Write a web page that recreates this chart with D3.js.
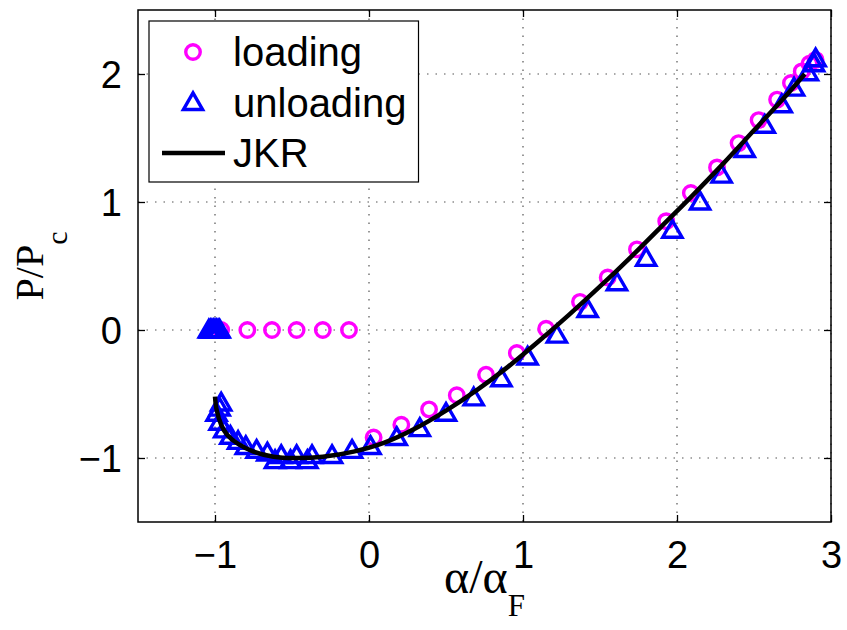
<!DOCTYPE html>
<html>
<head>
<meta charset="utf-8">
<script src="https://cdn.jsdelivr.net/npm/d3@7"></script>
<style>
  body { margin: 0; background: #fff; }
  svg { display: block; }
  .tick-label { font-family: "Liberation Sans", Arial, sans-serif; font-size: 38px; fill: #000; }
  .legend-label { font-family: "Liberation Sans", Arial, sans-serif; font-size: 40px; fill: #000; }
  .axis-title { font-family: "Liberation Serif", "Times New Roman", serif; font-size: 40px; fill: #000; }
</style>
</head>
<body>
<div id="chart"></div>
<script>
// loading (circles)
const loadX = [-0.96, -0.79, -0.63, -0.47, -0.30, -0.13,
  0.03, 0.21, 0.39, 0.57, 0.76, 0.96, 1.15, 1.37, 1.55, 1.74, 1.93, 2.09,
  2.26, 2.40, 2.53, 2.65, 2.74, 2.81, 2.86, 2.90];
const loadY = [0, 0, 0, 0, 0, 0,
  -0.84, -0.74, -0.62, -0.51, -0.35, -0.18, 0.01, 0.22, 0.41, 0.63, 0.85, 1.07,
  1.27, 1.46, 1.64, 1.80, 1.93, 2.02, 2.08, 2.11];

// unloading (triangles)
const unloadX = [2.90, 2.89, 2.85, 2.76, 2.68, 2.57, 2.44, 2.29, 2.15, 1.97,
  1.80, 1.61, 1.42, 1.22, 1.03, 0.86, 0.68, 0.50, 0.33, 0.18, 0.01, -0.11,
  -0.24, -0.37, -0.40, -0.47, -0.51, -0.57, -0.61, -0.66, -0.73, -0.80,
  -0.85, -0.90, -0.94, -0.97, -0.99, -0.97, -0.96,
  -1.04, -1.03, -1.02, -1.01, -1.00, -0.99, -0.98, -0.97];
const unloadY = [2.12, 2.08, 2.01, 1.89, 1.76, 1.60, 1.41, 1.21, 1.00, 0.78,
  0.56, 0.37, 0.16, -0.04, -0.21, -0.38, -0.53, -0.65, -0.77, -0.84, -0.91, -0.94,
  -0.98, -0.98, -1.02, -0.98, -1.02, -0.98, -1.02, -0.96, -0.94, -0.91,
  -0.87, -0.83, -0.78, -0.72, -0.65, -0.61, -0.57,
  0, 0, 0, 0, 0, 0, 0, 0];

// JKR curve
const jkrX = [-1.00, -0.99, -0.96, -0.92, -0.85, -0.75, -0.62, -0.48, -0.30, -0.10,
  0.10, 0.30, 0.50, 0.70, 0.90, 1.10, 1.30, 1.50, 1.70, 1.90, 2.10, 2.30,
  2.50, 2.70, 2.83];
const jkrY = [-0.52, -0.62, -0.74, -0.82, -0.89, -0.95, -0.99, -1.00, -0.99, -0.95,
  -0.88, -0.77, -0.63, -0.47, -0.29, -0.09, 0.12, 0.34, 0.57, 0.81, 1.05, 1.30,
  1.56, 1.82, 2.00];

const xTicks = [-1, 0, 1, 2, 3];
const yTicks = [-1, 0, 1, 2];

const width = 847, height = 630;
const margin = { top: 10, right: 16, bottom: 108, left: 138 };
const w = width - margin.left - margin.right;
const h = height - margin.top - margin.bottom;

const svg = d3.select("#chart").append("svg")
  .attr("width", width)
  .attr("height", height);

const g = svg.append("g")
  .attr("transform", `translate(${margin.left},${margin.top})`);

const x = d3.scaleLinear().domain([-1.5, 3]).range([0, w]);
const y = d3.scaleLinear().domain([-1.5, 2.5]).range([h, 0]);

// dotted grid
g.append("g").selectAll("line")
  .data(xTicks)
  .join("line")
  .attr("x1", d => x(d)).attr("x2", d => x(d))
  .attr("y1", 0).attr("y2", h)
  .attr("stroke", "#555").attr("stroke-width", 1.2)
  .attr("stroke-dasharray", "1.5,7");
g.append("g").selectAll("line")
  .data(yTicks)
  .join("line")
  .attr("x1", 0).attr("x2", w)
  .attr("y1", d => y(d)).attr("y2", d => y(d))
  .attr("stroke", "#555").attr("stroke-width", 1.2)
  .attr("stroke-dasharray", "1.5,7");

// axes with inward ticks, labels
const fmt = d => d < 0 ? "\u2212" + Math.abs(d) : String(d);
const xAxis = g.append("g").attr("transform", `translate(0,${h})`)
  .call(d3.axisBottom(x).tickValues(xTicks).tickSize(-7).tickPadding(19).tickFormat(fmt));
const xAxisTop = g.append("g")
  .call(d3.axisTop(x).tickValues(xTicks).tickSize(-7).tickFormat(""));
const yAxis = g.append("g")
  .call(d3.axisLeft(y).tickValues(yTicks).tickSize(-7).tickPadding(16).tickFormat(fmt));
const yAxisRight = g.append("g").attr("transform", `translate(${w},0)`)
  .call(d3.axisRight(y).tickValues(yTicks).tickSize(-7).tickFormat(""));

[xAxis, xAxisTop, yAxis, yAxisRight].forEach(a => {
  a.select(".domain").remove();
  a.selectAll(".tick line").attr("stroke", "#000").attr("stroke-width", 1.3);
  a.selectAll(".tick text").attr("class", "tick-label").attr("font-size", null).attr("font-family", null);
});
yAxis.selectAll(".tick text").attr("dy", "0.36em");

// markers
const circleSym = d3.symbol().type(d3.symbolCircle).size(165);
const triSym = d3.symbol().type(d3.symbolTriangle).size(160);

const loading = loadX.map((v, i) => ({ x: v, y: loadY[i] }));
const unloading = unloadX.map((v, i) => ({ x: v, y: unloadY[i] }));
const jkr = jkrX.map((v, i) => ({ x: v, y: jkrY[i] }));

g.append("g").selectAll("path")
  .data(loading)
  .join("path")
  .attr("d", circleSym)
  .attr("transform", d => `translate(${x(d.x)},${y(d.y)})`)
  .attr("fill", "none")
  .attr("stroke", "#ff00ff")
  .attr("stroke-width", 3.4);

g.append("g").selectAll("path")
  .data(unloading)
  .join("path")
  .attr("d", triSym)
  .attr("transform", d => `translate(${x(d.x)},${y(d.y) + 1.5})`)
  .attr("fill", "none")
  .attr("stroke", "#0000ff")
  .attr("stroke-width", 3.4)
  .attr("stroke-linejoin", "miter");

g.append("path")
  .datum(jkr)
  .attr("d", d3.line().x(d => x(d.x)).y(d => y(d.y)).curve(d3.curveCatmullRom))
  .attr("fill", "none")
  .attr("stroke", "#000")
  .attr("stroke-width", 4.5);

// box
g.append("rect")
  .attr("width", w).attr("height", h)
  .attr("fill", "none").attr("stroke", "#000").attr("stroke-width", 1.5);

// legend
const legend = svg.append("g").attr("transform", "translate(149,21)");
const legendBox = legend.append("rect")
  .attr("height", 161)
  .attr("fill", "#fff").attr("stroke", "#000").attr("stroke-width", 1.2);
const legendItems = ["loading", "unloading", "JKR"];
let maxRight = 0;
legendItems.forEach((name, i) => {
  const cy = 31 + i * 50.5;
  if (i === 0) {
    legend.append("path").attr("d", circleSym)
      .attr("transform", `translate(44,${cy})`)
      .attr("fill", "none").attr("stroke", "#ff00ff").attr("stroke-width", 3.4);
  } else if (i === 1) {
    legend.append("path").attr("d", triSym)
      .attr("transform", `translate(44,${cy + 1.5})`)
      .attr("fill", "none").attr("stroke", "#0000ff").attr("stroke-width", 3.4);
  } else {
    legend.append("line")
      .attr("x1", 13).attr("x2", 76).attr("y1", cy).attr("y2", cy)
      .attr("stroke", "#000").attr("stroke-width", 4.5);
  }
  const t = legend.append("text")
    .attr("class", "legend-label")
    .attr("x", 84).attr("y", cy)
    .attr("dy", "0.36em")
    .text(name);
  const bb = t.node().getBBox();
  maxRight = Math.max(maxRight, bb.x + bb.width);
});
legendBox.attr("width", maxRight + 12);

// axis titles
const xt = svg.append("text")
  .attr("class", "axis-title")
  .attr("x", margin.left + w / 2)
  .attr("y", 593)
  .attr("text-anchor", "middle");
xt.append("tspan").attr("font-size", "48px").text("\u03b1/\u03b1");
xt.append("tspan").attr("font-size", "31px").attr("dy", 23).text("F");

const yt = svg.append("text")
  .attr("class", "axis-title")
  .attr("transform", `translate(43,${margin.top + h / 2}) rotate(-90)`)
  .attr("text-anchor", "middle");
yt.append("tspan").text("P/P");
yt.append("tspan").attr("font-size", "30px").attr("dy", 24).text("c");
</script>
</body>
</html>
